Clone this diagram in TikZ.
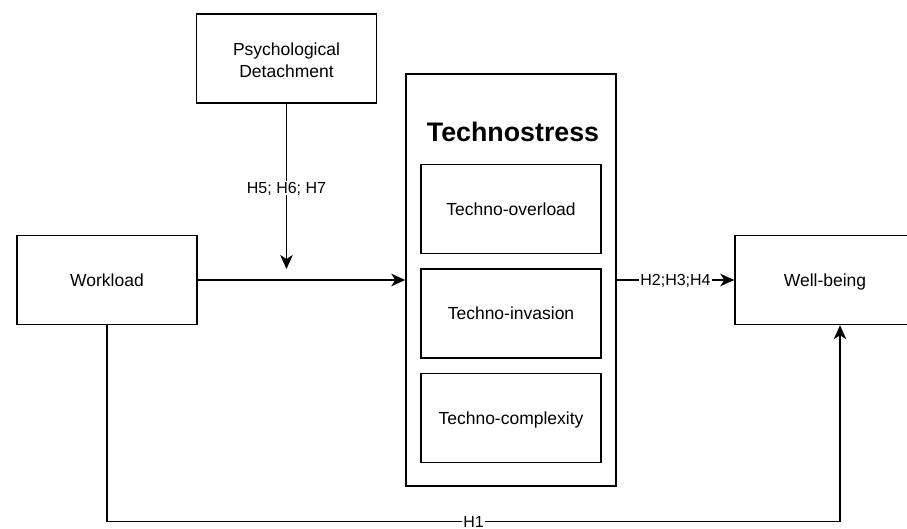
\documentclass[tikz,border=0pt]{standalone}
\usepackage{fontspec}
\setmainfont{Liberation Sans}
\usetikzlibrary{arrows.meta}

\begin{document}
\begin{tikzpicture}[x=1pt, y=-1pt, line width=1.4pt,
    box/.style = {draw, minimum width=180pt, minimum height=89pt, align=center,
                  font=\fontsize{17.5}{21.7}\selectfont},
    onebox/.style = {box, text height=12.6pt, text depth=0pt},
    lbl/.style = {fill=white, inner sep=1.5pt, text height=11.5pt, text depth=0pt,
                  font=\fontsize{16}{18}\selectfont},
    arr/.style = {-{Stealth[length=14pt, width=12.5pt, inset=4pt]}}]
      \clip (0,0) rectangle (907,529);
      % outer box
      \node[draw, minimum width=210pt, minimum height=412pt] (techno) at (511,280) {};
      \node[font=\fontsize{26.8}{30}\selectfont\bfseries] (title) at (513,131.5) {Technostress};
      \node[onebox] (overload) at (511,209) {Techno-overload};
      \node[onebox] (invasion) at (511,313.5) {Techno-invasion};
      \node[onebox] (complexity) at (511,418) {Techno-complexity};
      % other boxes
      \node[box] (psych) at (286.5,58.5) {};
      \node[align=center, font=\fontsize{17.5}{21.7}\selectfont] (psychtxt) at ([yshift=-2pt]psych.center) {Psychological\\Detachment};
      \node[onebox] (work) at (107,280) {Workload};
      \node[onebox] (well) at (825,280) {Well-being};
      \coordinate (modpt) at (286.5,269);
      \coordinate (low) at (107,521.5);
      \coordinate (wellin) at ([xshift=15pt]well.south);
      % connectors
      \draw[arr] (work.east) -- (techno.west);
      \draw[arr] (psych.south) -- node[lbl, pos=0.51] (hmod) {H5; H6; H7} (modpt);
      \draw[arr] (techno.east) -- node[lbl, inner sep=1pt] (hmed) {H2;H3;H4} (well.west);
      \draw[arr] (work.south) -- (low) -| node[lbl, pos=0.25, inner ysep=0.5pt] (hdir) {H1} (wellin);
    \end{tikzpicture}
\end{document}
